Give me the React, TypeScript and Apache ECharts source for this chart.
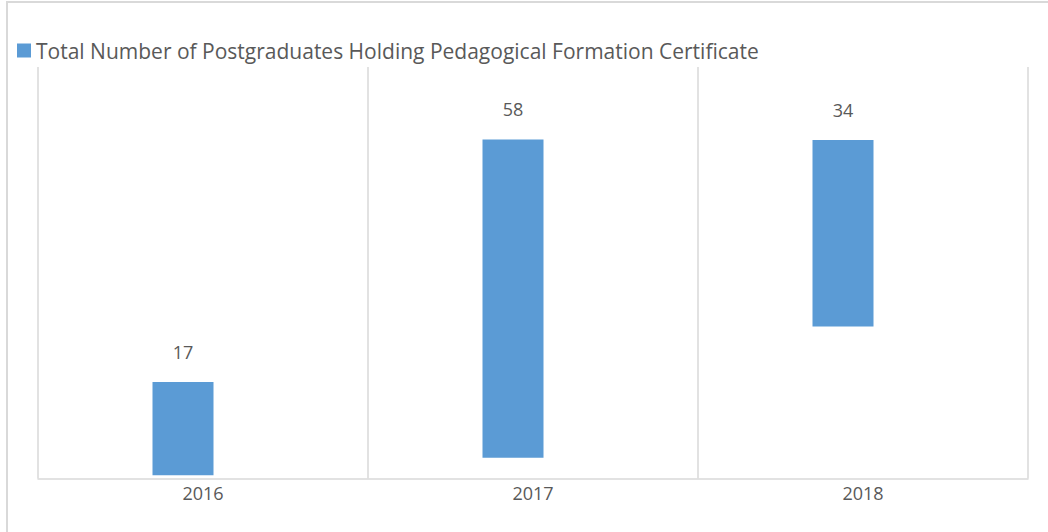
import React, { useEffect, useRef } from "react";
import * as echarts from "echarts";

const categories = ["2016", "2017", "2018"];
const baseValues = [0.6, 3.8, 27.7];
const values = [17, 58, 34];
const spacerValues = [0, 0, 0];
const seriesName = "Total Number of Postgraduates Holding Pedagogical Formation Certificate";

export default function App() {
  const ref = useRef<HTMLDivElement>(null);
  useEffect(() => {
    if (!ref.current) return;
    const chart = echarts.init(ref.current, undefined, { renderer: "svg" });
    const font = "'Open Sans', sans-serif";
    chart.setOption({
      animation: false,
      backgroundColor: "#ffffff",
      grid: { left: 38, right: 20, top: 67, bottom: 53.5, containLabel: false },
      legend: {
        data: [seriesName],
        left: 12,
        top: 35,
        icon: "rect",
        itemWidth: 14,
        itemHeight: 14,
        textStyle: { fontSize: 21, color: "#595959", fontFamily: font },
      },
      graphic: [
        {
          type: "rect",
          shape: { x: 7, y: 2, width: 1100, height: 600 },
          style: { fill: "none", stroke: "#d9d9d9", lineWidth: 2 },
          silent: true,
        },
      ],
      xAxis: {
        type: "category",
        data: categories,
        boundaryGap: true,
        axisLine: { show: true, lineStyle: { color: "#d9d9d9", width: 1.5 } },
        axisTick: { show: false },
        axisLabel: { fontSize: 18, color: "#595959", fontFamily: font, margin: 5 },
        splitLine: { show: true, interval: 0, lineStyle: { color: "#d9d9d9", width: 1.5 } },
      },
      yAxis: {
        type: "value",
        min: 0,
        max: 75,
        show: false,
        splitLine: { show: false },
      },
      series: [
        {
          name: "base",
          type: "bar",
          stack: "s",
          data: baseValues,
          itemStyle: { color: "transparent" },
          barWidth: 61,
          silent: true,
        },
        {
          name: seriesName,
          type: "bar",
          stack: "s",
          data: values,
          barWidth: 61,
          itemStyle: { color: "#5b9bd5" },
          label: {
            show: true,
            position: "top",
            distance: 21,
            fontSize: 18,
            color: "#595959",
            fontFamily: font,
          },
        },
        {
          name: "spacer",
          type: "bar",
          data: spacerValues,
          barWidth: 40,
          barGap: 0,
          itemStyle: { color: "transparent" },
          silent: true,
        },
      ],
    });
    return () => chart.dispose();
  }, []);
  return (
    <div
      ref={ref}
      style={{ position: "fixed", left: 0, top: 0, width: 1048, height: 532 }}
    />
  );
}
